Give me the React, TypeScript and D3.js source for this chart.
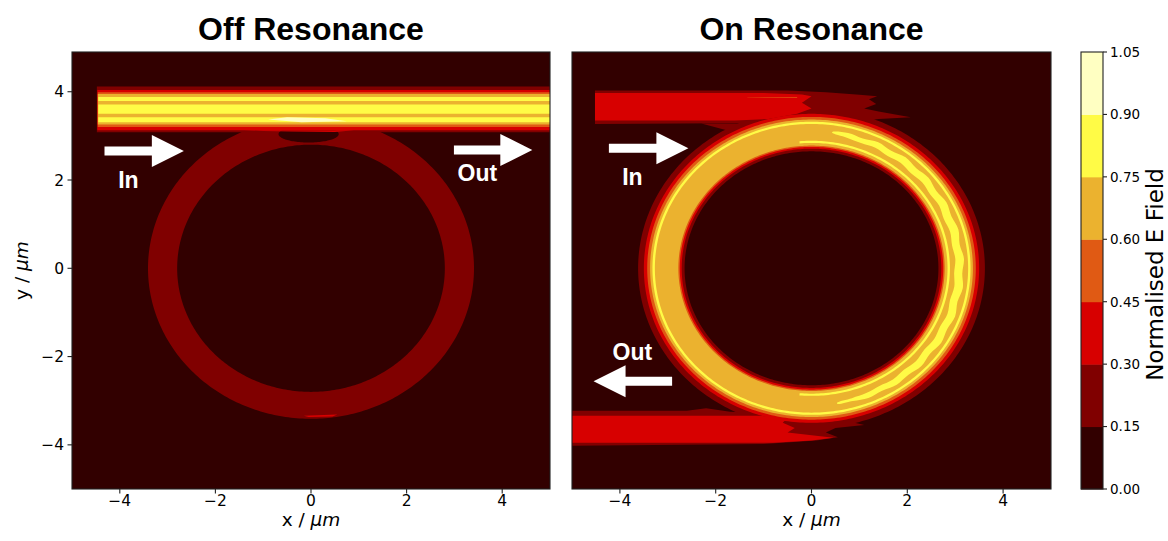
import React from "react";
import * as d3 from "d3";

// ---------- data ----------
const levels = [0, 0.15, 0.3, 0.45, 0.6, 0.75, 0.9, 1.05];
const levelColors = ["#320000", "#800000", "#d70000", "#e05a14", "#ebb22f", "#fffb46", "#ffffc2"];
const xTicks = [-4, -2, 0, 2, 4];
const yTicks = [-4, -2, 0, 2, 4];
const panelTitles = ["Off Resonance", "On Resonance"];
const xDomain = [-5, 5];
const yDomain = [-5, 4.9];

type Pt = [number, number];
type Shape =
  | { kind: "rect"; level: number; z?: number; x0: number; x1: number; y0: number; y1: number }
  | { kind: "ring"; level: number; z?: number; cx: number; cy: number; r0: number; r1: number; a0?: number; a1?: number }
  | { kind: "stripe"; level: number; z?: number; cx: number; cy: number; samples: [number, number, number][] }
  | { kind: "ellipse"; level: number; z?: number; cx: number; cy: number; rx: number; ry: number }
  | { kind: "poly"; level: number; z?: number; pts: Pt[] };

// Off resonance: bus waveguide contour bands (y ranges in µm)
const offGuideBands: Shape[] = [
  { kind: "rect", level: 1, x0: -4.48, x1: 5.2, y0: 3.08, y1: 4.12 },
  { kind: "rect", level: 2, x0: -4.47, x1: 5.2, y0: 3.13, y1: 4.04 },
  { kind: "rect", level: 3, x0: -4.46, x1: 5.2, y0: 3.2, y1: 3.99 },
  { kind: "rect", level: 4, x0: -4.46, x1: 5.2, y0: 3.26, y1: 3.95 },
  { kind: "rect", level: 5, x0: -4.45, x1: 5.2, y0: 3.31, y1: 3.42 },
  { kind: "rect", level: 5, x0: -4.45, x1: 5.2, y0: 3.5, y1: 3.71 },
  { kind: "rect", level: 5, x0: -4.45, x1: 5.2, y0: 3.79, y1: 3.88 },
];
// Off resonance: ring and coupling-region details
const offRingBands: Shape[] = [
  { kind: "ring", level: 1, cx: 0, cy: 0, r0: 2.8, r1: 3.41 },
  { kind: "ellipse", level: 0, z: 1.5, cx: -0.05, cy: 3.04, rx: 0.63, ry: 0.19 },
  { kind: "poly", level: 2, pts: [[-1.4, 3.13], [0.9, 3.13], [0.5, 3.09], [-0.4, 3.1], [-1.0, 3.11]] },
  { kind: "poly", level: 6, pts: [[-0.9, 3.37], [-0.2, 3.31], [0.75, 3.33], [0.3, 3.4], [-0.5, 3.42]] },
  { kind: "poly", level: 2, pts: [[-0.15, -3.34], [0.55, -3.31], [0.45, -3.36], [-0.05, -3.37]] },
];

// On resonance: input (top) waveguide bands
const onTopGuideBands: Shape[] = [
  { kind: "poly", level: 1, pts: [[-4.52, 4.03], [-0.5, 4.03], [0.3, 3.99], [1.0, 3.93], [1.37, 3.9], [1.2, 3.83], [1.35, 3.72], [1.1, 3.62], [1.4, 3.55], [2.07, 3.42], [1.4, 3.38], [0.8, 3.3], [-4.52, 3.27]] },
  { kind: "poly", level: 1, pts: [[-2.3, 3.28], [-1.0, 3.28], [-1.2, 3.2], [-1.75, 3.12]] },
  { kind: "poly", level: 2, pts: [[-4.52, 3.97], [-1.0, 3.97], [-0.2, 3.94], [0.0, 3.9], [-0.2, 3.75], [0.0, 3.62], [-0.3, 3.5], [-0.9, 3.38], [-1.6, 3.35], [-4.52, 3.35]] },
  { kind: "poly", level: 3, pts: [[-1.34, 3.872], [-0.3, 3.882], [-0.3, 3.862], [-1.34, 3.865]] },
];
// On resonance: output (bottom) waveguide bands
const onBottomGuideBands: Shape[] = [
  { kind: "poly", level: 1, pts: [[-5.2, -3.23], [-2.6, -3.23], [-2.2, -3.17], [-1.7, -3.25], [-0.6, -3.3], [0.3, -3.4], [0.9, -3.5], [1.1, -3.55], [0.5, -3.62], [0.3, -3.72], [0.55, -3.83], [0.1, -3.9], [-1.0, -3.98], [-5.2, -4.02]] },
  { kind: "poly", level: 2, pts: [[-5.2, -3.34], [-1.1, -3.34], [-0.5, -3.38], [-0.6, -3.5], [-0.35, -3.62], [-0.5, -3.72], [0.46, -3.84], [0.0, -3.9], [-0.8, -3.95], [-5.2, -3.95]] },
];
// On resonance: ring bands (radii in µm)
const onRingBands: Shape[] = [
  { kind: "ring", level: 1, cx: 0, cy: 0, r0: 2.65, r1: 3.62 },
  { kind: "ring", level: 2, cx: 0, cy: 0, r0: 2.71, r1: 3.5 },
  { kind: "ring", level: 3, cx: 0, cy: 0, r0: 2.75, r1: 3.43 },
  { kind: "ring", level: 4, cx: 0, cy: 0, r0: 2.78, r1: 3.37 },
  { kind: "ring", level: 5, cx: 0, cy: 0, r0: 3.27, r1: 3.32 },
  { kind: "ring", level: 5, cx: 0, cy: 0, r0: 2.84, r1: 2.89, a0: -95, a1: 95 },
  {
    kind: "stripe", level: 5, cx: 0, cy: 0,
    samples: [
      [82, 3.1, 3.12], [76, 3.05, 3.16], [70, 3.02, 3.13], [64, 3.04, 3.18], [58, 3.0, 3.14], [52, 3.03, 3.19],
      [46, 2.99, 3.15], [40, 3.02, 3.19], [34, 2.99, 3.14], [28, 3.02, 3.19], [22, 2.98, 3.15], [16, 3.01, 3.19],
      [10, 2.98, 3.14], [4, 3.01, 3.19], [-2, 2.98, 3.15], [-8, 3.01, 3.19], [-14, 2.98, 3.14], [-20, 3.02, 3.19],
      [-26, 2.99, 3.15], [-32, 3.02, 3.19], [-38, 2.99, 3.14], [-44, 3.03, 3.19], [-50, 3.0, 3.15], [-56, 3.04, 3.18],
      [-62, 3.02, 3.14], [-68, 3.05, 3.17], [-74, 3.06, 3.13], [-80, 3.09, 3.12],
    ],
  },
];

// arrows (µm): tail x, tip x, y
const offArrows = [{ x0: -4.32, x1: -2.66, y: 2.66 }, { x0: 2.99, x1: 4.63, y: 2.68 }];
const onArrows = [{ x0: -4.23, x1: -2.57, y: 2.72 }, { x0: -2.91, x1: -4.55, y: -2.56 }];
const offLabels = [{ text: "In", x: -3.82, y: 1.81 }, { text: "Out", x: 3.48, y: 1.97 }];
const onLabels = [{ text: "In", x: -3.74, y: 1.89 }, { text: "Out", x: -3.74, y: -2.08 }];

// ---------- helpers ----------
function shapePath(s: Shape, x: d3.ScaleLinear<number, number>, y: d3.ScaleLinear<number, number>): string {
  const line = d3.line<Pt>().x((d) => x(d[0])).y((d) => y(d[1]));
  const rad = Math.PI / 180;
  if (s.kind === "rect") {
    return line([[s.x0, s.y0], [s.x1, s.y0], [s.x1, s.y1], [s.x0, s.y1]]) + "Z";
  }
  if (s.kind === "poly") {
    return line(s.pts) + "Z";
  }
  if (s.kind === "ellipse") {
    const pts: Pt[] = d3.range(0, 360, 3).map((a) => [s.cx + s.rx * Math.cos(a * rad), s.cy + s.ry * Math.sin(a * rad)]);
    return line(pts) + "Z";
  }
  if (s.kind === "ring") {
    const a0 = s.a0 ?? 0;
    const a1 = s.a1 ?? 360;
    const full = a1 - a0 >= 360;
    const angs = d3.range(a0, a1 + 0.0001, 1);
    const outer: Pt[] = angs.map((a) => [s.cx + s.r1 * Math.cos(a * rad), s.cy + s.r1 * Math.sin(a * rad)]);
    const inner: Pt[] = angs.map((a) => [s.cx + s.r0 * Math.cos(a * rad), s.cy + s.r0 * Math.sin(a * rad)]).reverse() as Pt[];
    if (full) return line(outer) + "Z" + line(inner) + "Z";
    return line([...outer, ...inner]) + "Z";
  }
  // stripe
  const outer: Pt[] = s.samples.map(([a, , r1]) => [s.cx + r1 * Math.cos(a * rad), s.cy + r1 * Math.sin(a * rad)]);
  const inner: Pt[] = s.samples.map(([a, r0]) => [s.cx + r0 * Math.cos(a * rad), s.cy + r0 * Math.sin(a * rad)]).reverse() as Pt[];
  const curved = d3.line<Pt>().x((d) => x(d[0])).y((d) => y(d[1])).curve(d3.curveCatmullRomClosed);
  return curved([...outer, ...inner]) || "";
}

function arrowPath(a: { x0: number; x1: number; y: number }, x: d3.ScaleLinear<number, number>, y: d3.ScaleLinear<number, number>) {
  const X0 = x(a.x0), X1 = x(a.x1), Y = y(a.y);
  const d = Math.sign(X1 - X0);
  const Xb = X1 - d * 32;
  const pts: Pt[] = [[X0, Y - 4.5], [Xb, Y - 4.5], [Xb, Y - 16], [X1, Y], [Xb, Y + 16], [Xb, Y + 4.5], [X0, Y + 4.5]];
  return d3.line<Pt>()(pts) + "Z";
}

const sortShapes = (arr: Shape[]) => [...arr].sort((a, b) => (a.z ?? a.level) - (b.z ?? b.level));

export default function App() {
  const W = 1168, H = 541;
  const top = 52, bottom = 489;
  const y = d3.scaleLinear().domain(yDomain).range([bottom, top]);
  const panels = [
    { title: panelTitles[0], left: 72, right: 550, shapes: sortShapes([...offRingBands, ...offGuideBands]), arrows: offArrows, labels: offLabels, yLab: true },
    { title: panelTitles[1], left: 572, right: 1051, shapes: sortShapes([...onTopGuideBands, ...onBottomGuideBands, ...onRingBands]), arrows: onArrows, labels: onLabels, yLab: false },
  ];
  const cbX0 = 1081, cbX1 = 1103;
  const cbY = d3.scaleLinear().domain([levels[0], levels[levels.length - 1]]).range([bottom, top]);
  const fmtTick = d3.format("d");
  const fmtCb = d3.format(".2f");
  const tickFont = "DejaVu Sans";
  const axisColor = "#222";

  return (
    <svg width={W} height={H} style={{ position: "absolute", left: 0, top: 0, background: "#fff" }}>
      <defs>
        {panels.map((p, i) => (
          <clipPath id={`clip${i}`} key={i}>
            <rect x={p.left} y={top} width={p.right - p.left} height={bottom - top} />
          </clipPath>
        ))}
      </defs>
      {panels.map((p, i) => {
        const x = d3.scaleLinear().domain(xDomain).range([p.left, p.right]);
        const cx = (p.left + p.right) / 2;
        return (
          <g key={i}>
            <g clipPath={`url(#clip${i})`}>
              <rect x={p.left} y={top} width={p.right - p.left} height={bottom - top} fill={levelColors[0]} />
              {p.shapes.map((s, j) => (
                <path key={j} d={shapePath(s, x, y)} fill={levelColors[s.level]} fillRule="evenodd" />
              ))}
              {p.arrows.map((a, j) => (
                <path key={`a${j}`} d={arrowPath(a, x, y)} fill="#fff" />
              ))}
              {p.labels.map((l, j) => (
                <text key={`l${j}`} x={x(l.x)} y={y(l.y)} textAnchor="middle" fill="#fff" fontFamily="Liberation Sans, Arial, sans-serif" fontWeight="bold" fontSize={23}>
                  {l.text}
                </text>
              ))}
            </g>
            <rect x={p.left} y={top} width={p.right - p.left} height={bottom - top} fill="none" stroke={axisColor} strokeWidth={1.1} />
            {xTicks.map((t) => (
              <g key={`xt${t}`}>
                <line x1={x(t)} x2={x(t)} y1={bottom} y2={bottom + 4.5} stroke={axisColor} strokeWidth={1.1} />
                <text x={x(t)} y={506} textAnchor="middle" fontFamily={tickFont} fontSize={15.5} fill="#000">
                  {fmtTick(t)}
                </text>
              </g>
            ))}
            {p.yLab &&
              yTicks.map((t) => (
                <g key={`yt${t}`}>
                  <line x1={p.left - 4.5} x2={p.left} y1={y(t)} y2={y(t)} stroke={axisColor} strokeWidth={1.1} />
                  <text x={p.left - 8} y={y(t)} dy="0.36em" textAnchor="end" fontFamily={tickFont} fontSize={15.5} fill="#000">
                    {fmtTick(t)}
                  </text>
                </g>
              ))}
            <text x={cx} y={526} textAnchor="middle" fontFamily={tickFont} fontSize={18.5} fill="#000">
              x / <tspan fontStyle="italic">μm</tspan>
            </text>
            <text x={cx} y={40} textAnchor="middle" fontFamily="Liberation Sans, Arial, sans-serif" fontWeight="bold" fontSize={32} fill="#000">
              {p.title}
            </text>
          </g>
        );
      })}
      <text transform={`translate(28,${(top + bottom) / 2}) rotate(-90)`} textAnchor="middle" fontFamily={tickFont} fontSize={18.5} fill="#000">
        y / <tspan fontStyle="italic">μm</tspan>
      </text>
      {/* colorbar */}
      <g>
        {levelColors.map((c, i) => (
          <rect key={i} x={cbX0} y={cbY(levels[i + 1])} width={cbX1 - cbX0} height={cbY(levels[i]) - cbY(levels[i + 1]) + 0.5} fill={c} />
        ))}
        <rect x={cbX0} y={top} width={cbX1 - cbX0} height={bottom - top} fill="none" stroke={axisColor} strokeWidth={1.1} />
        {levels.map((l) => (
          <g key={l}>
            <line x1={cbX1} x2={cbX1 + 4} y1={cbY(l)} y2={cbY(l)} stroke={axisColor} strokeWidth={1.1} />
            <text x={cbX1 + 7} y={cbY(l)} dy="0.36em" fontFamily={tickFont} fontSize={13.5} fill="#000">
              {fmtCb(l)}
            </text>
          </g>
        ))}
        <text transform={`translate(1163,${(top + bottom) / 2 + 4}) rotate(-90)`} textAnchor="middle" fontFamily={tickFont} fontSize={23} fill="#000">
          Normalised E Field
        </text>
      </g>
    </svg>
  );
}
